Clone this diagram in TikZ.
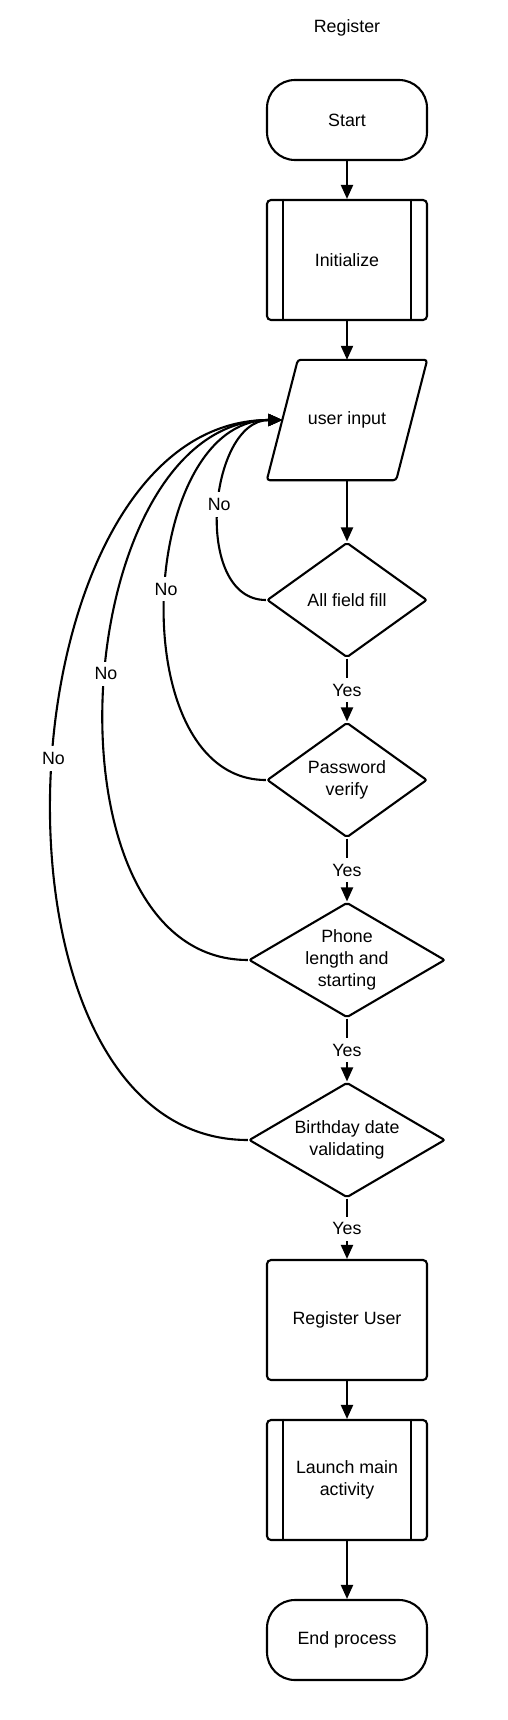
\documentclass[tikz,border=0pt]{standalone}
\usepackage{fontspec}
\setmainfont{Liberation Sans}
\usetikzlibrary{shapes.geometric,arrows.meta}
\begin{document}
\begin{tikzpicture}[x=1pt,y=-1pt,
  every node/.style={font=\fontsize{17.8}{21.7}\selectfont, align=center},
  base/.style={draw, line width=2.1pt},
  term/.style={base, rectangle, rounded corners=28pt, minimum width=160pt, minimum height=80pt},
  proc/.style={base, rectangle, rounded corners=4pt, minimum width=160pt, minimum height=120pt},
  dec/.style={base, diamond, inner sep=0pt, rounded corners=2pt, minimum height=115pt},
  flow/.style={line width=2.1pt, -{Triangle[length=14pt,width=12pt]}},
  lbl/.style={fill=white, inner xsep=2pt, inner ysep=6pt},
  bar/.style={line width=2.1pt}
]
\useasboundingbox (0,0) rectangle (507,1720);
\node (title) at (347,28) {Register};
\node[term] (start) at (347,120) {Start};
\node[proc] (init) at (347,260) {Initialize};
\draw[bar] ([xshift=17pt]init.north west) -- ([xshift=17pt]init.south west);
\draw[bar] ([xshift=-17pt]init.north east) -- ([xshift=-17pt]init.south east);
\node[minimum width=129pt, minimum height=120pt, inner sep=0pt] (ui) at (347,420) {user input};
\draw[base, rounded corners=3pt] ([xshift=15.5pt]ui.north west) -- ([xshift=15.5pt]ui.north east) -- ([xshift=-15.5pt]ui.south east) -- ([xshift=-15.5pt]ui.south west) -- cycle;
\node[dec, minimum width=160pt, shape aspect=1.39] (d1) at (347,600) {All field fill};
\node[dec, minimum width=160pt, shape aspect=1.39] (d2) at (347,780) {Password\\verify};
\node[dec, minimum width=196pt, shape aspect=1.7] (d3) at (347,960) {Phone\\length and\\starting};
\node[dec, minimum width=196pt, shape aspect=1.7] (d4) at (347,1140) {Birthday date\\validating};
\node[proc] (reg) at (347,1320) {Register User};
\node[proc] (launch) at (347,1480) {Launch main\\activity};
\draw[bar] ([xshift=17pt]launch.north west) -- ([xshift=17pt]launch.south west);
\draw[bar] ([xshift=-17pt]launch.north east) -- ([xshift=-17pt]launch.south east);
\node[term] (stop) at (347,1640) {End process};

\draw[flow] (start) -- (init);
\draw[flow] (init) -- (ui);
\draw[flow] (ui) -- (d1);
\draw[flow] (d1) -- node[lbl]{Yes} (d2);
\draw[flow] (d2) -- node[lbl]{Yes} (d3);
\draw[flow] (d3) -- node[lbl]{Yes} (d4);
\draw[flow] (d4) -- node[lbl]{Yes} (reg);
\draw[flow] (reg) -- (launch);
\draw[flow] (launch) -- (stop);

\draw[flow] (d1.west) .. controls +(-74,0) and +(-74,0) .. node[lbl, pos=0.52]{No} (ui.west);
\draw[flow] (d2.west) .. controls +(-145,0) and +(-145,0) .. node[lbl, pos=0.52]{No} (ui.west);
\draw[flow] (d3.west) .. controls +(-214,0) and +(-214,0) .. node[lbl, pos=0.52]{No} (ui.west);
\draw[flow] (d4.west) .. controls +(-284,0) and +(-284,0) .. node[lbl, pos=0.52]{No} (ui.west);
\end{tikzpicture}
\end{document}
